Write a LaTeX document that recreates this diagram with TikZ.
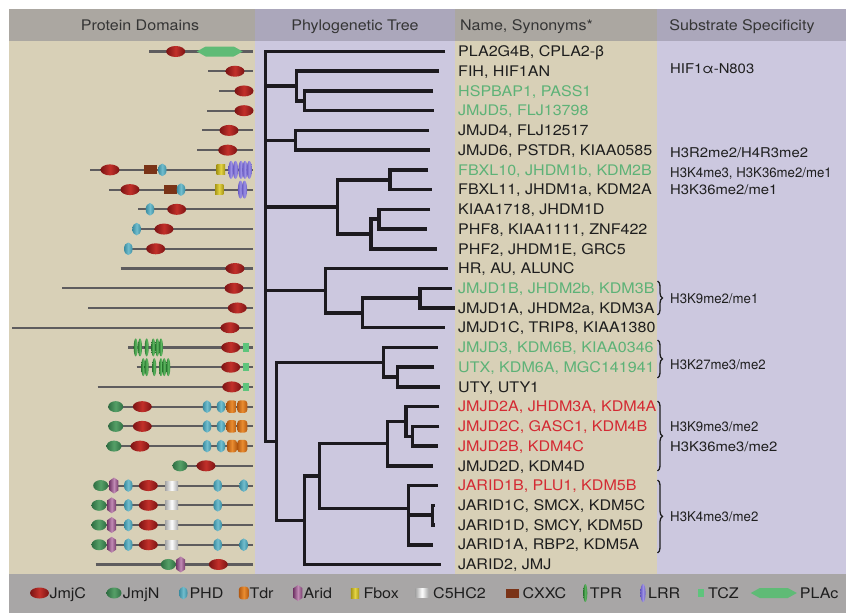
\documentclass[tikz,border=0pt]{standalone}
\usepackage{fontspec}
\setmainfont[FakeStretch=1.1]{TeX Gyre Heros}
\usepackage{tikz}
\usetikzlibrary{shapes.geometric,positioning,calc,decorations.pathreplacing}

\definecolor{HeadGrey}{HTML}{ABA7A1}
\definecolor{HeadLilac}{HTML}{ABA7BB}
\definecolor{Beige}{HTML}{D8D0B7}
\definecolor{Lilac}{HTML}{CCC8DF}
\definecolor{LegendGrey}{HTML}{A8A6A6}
\definecolor{NameGreen}{HTML}{5DB277}
\definecolor{NameRed}{HTML}{D42A33}
\definecolor{NameBlack}{HTML}{1E1E1E}
\definecolor{TreeInk}{HTML}{1C1A1F}
\definecolor{Backbone}{HTML}{5E5C5E}
\definecolor{JmjCLight}{HTML}{C3302A}
\definecolor{JmjCDark}{HTML}{7A1414}
\definecolor{JmjNLight}{HTML}{56A068}
\definecolor{JmjNDark}{HTML}{2F6E42}
\definecolor{PHDLight}{HTML}{72BDCD}
\definecolor{PHDDark}{HTML}{3A8CA1}
\definecolor{TdrLight}{HTML}{EA8D30}
\definecolor{TdrDark}{HTML}{B25810}
\definecolor{AridLight}{HTML}{C08AB4}
\definecolor{AridDark}{HTML}{7A3E6F}
\definecolor{FboxLight}{HTML}{E4D444}
\definecolor{FboxDark}{HTML}{A69616}
\definecolor{CXXCcol}{HTML}{7A3317}
\definecolor{TPRLight}{HTML}{5DB860}
\definecolor{TPRDark}{HTML}{2F7D35}
\definecolor{LRRLight}{HTML}{9C90E4}
\definecolor{LRRDark}{HTML}{6A5CC4}
\definecolor{TCZcol}{HTML}{5EC47C}
\definecolor{PLAccol}{HTML}{5FBB76}

% one protein: row, start of backbone, list of domain/x
\newcommand{\protein}[3]{%
  \pgfmathsetmacro{\py}{51.5+19.73*#1}
  \draw[backbone] (#2,\py) -- (253,\py);
  \foreach \dtype/\dx in {#3} {\pic at (\dx,\py) {\dtype};}
}
% tree helpers: parent, upper child, lower child
\newcommand{\clade}[3]{\draw[branch] (#2) -- (#2 -| #1) -- (#3 -| #1) -- (#3);}
\newcommand{\twig}[2]{\draw[branch] (#2) -- (#2 -| #1);}
\newcommand{\cond}[1]{\scalebox{0.89}[1]{#1}}

\begin{document}
\begin{tikzpicture}[
    x=1pt, y=-1pt,
    header/.style={font=\fontsize{14.6}{16}\selectfont, text=NameBlack!90, inner sep=0pt},
    gene/.style={font=\fontsize{14.6}{16}\selectfont, inner sep=0pt, anchor=base west},
    substrate/.style={font=\fontsize{13.5}{15}\selectfont, text=NameBlack, inner sep=0pt, anchor=base west},
    legtext/.style={font=\fontsize{14.6}{16}\selectfont, text=NameBlack, inner sep=0pt, anchor=base west},
    branch/.style={draw=TreeInk, line width=3.5pt},
    backbone/.style={draw=Backbone, line width=2.1pt},
    group/.style={draw=NameBlack, line width=1.3pt, decorate, decoration={brace, amplitude=5pt}},
    jmjc/.pic={\shade[left color=JmjCDark, right color=JmjCDark, middle color=JmjCLight] (0,0) ellipse [x radius=9.5pt, y radius=5.5pt];},
    jmjn/.pic={\shade[left color=JmjNDark, right color=JmjNDark, middle color=JmjNLight] (0,0) ellipse [x radius=7.5pt, y radius=5.5pt];},
    phd/.pic={\shade[left color=PHDDark, right color=PHDDark, middle color=PHDLight] (0,0) ellipse [x radius=4.3pt, y radius=6.3pt];},
    tdr/.pic={\shade[left color=TdrDark, right color=TdrDark, middle color=TdrLight, rounded corners=3pt] (-5,-6.3) rectangle (5,6.3);},
    arid/.pic={\shade[left color=AridDark, right color=AridDark, middle color=AridLight] (0,-8) -- (4.3,-5) -- (4.3,5) -- (0,8) -- (-4.3,5) -- (-4.3,-5) -- cycle;},
    fboxd/.pic={\shade[left color=FboxDark, right color=FboxDark, middle color=FboxLight] (-4.2,-5) rectangle (4.2,5);},
    chc/.pic={\shade[left color=gray!70, right color=gray!70, middle color=white] (-6.5,-4.5) rectangle (6.5,4.5);},
    cxxc/.pic={\fill[CXXCcol] (-6.5,-4.5) rectangle (6.5,4.5);},
    tpr/.pic={\shade[left color=TPRDark, right color=TPRDark, middle color=TPRLight] (0,0) ellipse [x radius=2pt, y radius=9pt];},
    lrr/.pic={\shade[left color=LRRDark, right color=LRRDark, middle color=LRRLight] (0,0) ellipse [x radius=2.6pt, y radius=9pt];},
    tcz/.pic={\fill[TCZcol] (-3,-4.2) rectangle (3,4.2);},
    plac/.pic={\fill[PLAccol] (-23,0) -- (-14,-5) -- (14,-5) -- (23,0) -- (14,5) -- (-14,5) -- cycle;}
]
    \useasboundingbox (0,0) rectangle (846,613);

    % column backgrounds
    \fill[HeadGrey] (9,9) rectangle (255,41);
    \fill[HeadLilac] (255,9) rectangle (455,41);
    \fill[HeadGrey] (455,9) rectangle (657,41);
    \fill[HeadLilac] (657,9) rectangle (846,41);
    \fill[Beige] (9,41) rectangle (255,574);
    \fill[Lilac] (255,41) rectangle (455,574);
    \fill[Beige] (455,41) rectangle (657,574);
    \fill[Lilac] (657,41) rectangle (846,574);
    \fill[LegendGrey] (9,574) rectangle (846,613);

    % headers
    \node[header, anchor=base] (hd-domains) at (140,30.2) {Protein Domains};
    \node[header, anchor=base] (hd-tree) at (355,30.2) {Phylogenetic Tree};
    \node[header, anchor=base west] (hd-names) at (460,30.2) {Name, Synonyms*};
    \node[header, anchor=base] (hd-substrate) at (742,30.2) {Substrate Specificity};

    % protein domains
    \protein{0}{149}{jmjc/175.7, plac/219.7}
    \protein{1}{208}{jmjc/235}
    \protein{2}{219}{jmjc/244}
    \protein{3}{207.3}{jmjc/244}
    \protein{4}{202.3}{jmjc/229}
    \protein{5}{197}{jmjc/227.7}
    \protein{6}{90}{jmjc/110, cxxc/150, phd/162.3, fboxd/220.8, lrr/231, lrr/235.5, lrr/241, lrr/245, lrr/249.3}
    \protein{7}{109.3}{jmjc/130, cxxc/170, phd/181, fboxd/219.2, lrr/240.5, lrr/244.5}
    \protein{8}{138.3}{phd/150, jmjc/176.7}
    \protein{9}{132.7}{phd/136.7, jmjc/164}
    \protein{10}{127}{phd/128.3, jmjc/155.7}
    \protein{11}{120.7}{jmjc/235}
    \protein{12}{62}{jmjc/234}
    \protein{13}{88.3}{jmjc/237.3}
    \protein{14}{12.3}{jmjc/230}
    \protein{15}{128.3}{tpr/135.7, tpr/140, tpr/146.7, tpr/153.3, tpr/157.3, tpr/161, jmjc/230.7, tcz/245.7}
    \protein{16}{136.7}{tpr/143.3, tpr/146.7, tpr/154.3, tpr/161, tpr/164.3, tpr/168.3, jmjc/230.7, tcz/245.7}
    \protein{17}{97.7}{jmjc/231.7, tcz/245.7}
    \protein{18}{108}{jmjn/115.7, jmjc/142.3, phd/207, phd/221, tdr/231.7, tdr/242.3}
    \protein{19}{108}{jmjn/115.7, jmjc/142.3, phd/207, phd/221, tdr/231.7, tdr/242.3}
    \protein{20}{106}{jmjn/114, jmjc/140, phd/207, phd/221, tdr/232, tdr/242.3}
    \protein{21}{178}{jmjn/180, jmjc/206}
    \protein{22}{97}{jmjn/100.7, arid/114, phd/128.3, jmjc/148.3, chc/171.7, phd/217.7, phd/243.7}
    \protein{23}{95}{jmjn/99, arid/111.7, phd/128.3, jmjc/148.3, chc/171.7, phd/217.7}
    \protein{24}{95}{jmjn/99, arid/111.7, phd/128.3, jmjc/148.3, chc/171.7, phd/217.7}
    \protein{25}{95}{jmjn/99, arid/111.7, phd/128.3, jmjc/148.3, chc/171.7, phd/217.7, phd/243.7}
    \protein{26}{95.7}{jmjn/168.3, arid/180.7, jmjc/218.3}

    % tree leaves and inner nodes
    \foreach \tx [count=\i from 0] in {445,439,433,434,429,430,428,432,430,427,436.7,447.7,452,455,445,437.7,434.3,440,439.3,439.3,437.7,433.3,437.7,435,435,433.3,441}
        \coordinate (leaf\i) at (\tx,{51.5+19.73*\i});
    \coordinate (root) at (265.5,0);
    \coordinate (cFIH) at (296.7,86.0);
    \coordinate (cHSP) at (304.3,100.85);
    \coordinate (cJMJD6) at (295.7,140.3);
    \coordinate (cKDM2) at (337.7,206.9);
    \coordinate (cFBXL) at (390,179.75);
    \coordinate (cPHF) at (371,234);
    \coordinate (cKIAA) at (379,219.2);
    \coordinate (cHR) at (325.7,290.7);
    \coordinate (cJMJD1) at (362.3,312.9);
    \coordinate (cJMJD1AB) at (420,298.15);
    \coordinate (cLower) at (276.7,441.3);
    \coordinate (cKDM6) at (383.3,362.3);
    \coordinate (cUTX) at (397.7,377.05);
    \coordinate (cJARID) at (304.3,520.25);
    \coordinate (cKDM45) at (319.3,476);
    \coordinate (cKDM4) at (387.7,443.6);
    \coordinate (cKDM4AC) at (406,421.4);
    \coordinate (cKDM4CB) at (412.3,436.25);
    \coordinate (cKDM5) at (408.3,508.3);
    \coordinate (cKDM5CD) at (432.3,515.15);

    % branches
    \clade{root}{leaf0}{cLower}
    \twig{root}{cFIH}
    \twig{root}{cJMJD6}
    \twig{root}{cKDM2}
    \twig{root}{cHR}
    \clade{cFIH}{leaf1}{cHSP}
    \clade{cHSP}{leaf2}{leaf3}
    \clade{cJMJD6}{leaf4}{leaf5}
    \clade{cKDM2}{cFBXL}{cPHF}
    \clade{cFBXL}{leaf6}{leaf7}
    \clade{cPHF}{cKIAA}{leaf10}
    \clade{cKIAA}{leaf8}{leaf9}
    \clade{cHR}{leaf11}{cJMJD1}
    \clade{cJMJD1}{cJMJD1AB}{leaf14}
    \clade{cJMJD1AB}{leaf12}{leaf13}
    \clade{cLower}{cKDM6}{cJARID}
    \clade{cKDM6}{leaf15}{cUTX}
    \clade{cUTX}{leaf16}{leaf17}
    \clade{cJARID}{cKDM45}{leaf26}
    \clade{cKDM45}{cKDM4}{cKDM5}
    \clade{cKDM4}{cKDM4AC}{leaf21}
    \clade{cKDM4AC}{leaf18}{cKDM4CB}
    \clade{cKDM4CB}{leaf19}{leaf20}
    \clade{cKDM5}{leaf22}{leaf25}
    \twig{cKDM5}{cKDM5CD}
    \clade{cKDM5CD}{leaf23}{leaf24}

    % names
    \foreach \lab/\col [count=\i from 0] in {
        {PLA2G4B, CPLA2-β}/NameBlack,
        {FIH, HIF1AN}/NameBlack,
        {HSPBAP1, PASS1}/NameGreen,
        {JMJD5, FLJ13798}/NameGreen,
        {JMJD4, FLJ12517}/NameBlack,
        {JMJD6, PSTDR, KIAA0585}/NameBlack,
        {FBXL10, JHDM1b, KDM2B}/NameGreen,
        {FBXL11, JHDM1a, KDM2A}/NameBlack,
        {KIAA1718, JHDM1D}/NameBlack,
        {PHF8, KIAA1111, ZNF422}/NameBlack,
        {PHF2, JHDM1E, GRC5}/NameBlack,
        {HR, AU, ALUNC}/NameBlack,
        {JMJD1B, JHDM2b, KDM3B}/NameGreen,
        {JMJD1A, JHDM2a, KDM3A}/NameBlack,
        {JMJD1C, TRIP8, KIAA1380}/NameBlack,
        {JMJD3, KDM6B, KIAA0346}/NameGreen,
        {UTX, KDM6A, MGC141941}/NameGreen,
        {UTY, UTY1}/NameBlack,
        {JMJD2A, JHDM3A, KDM4A}/NameRed,
        {JMJD2C, GASC1, KDM4B}/NameRed,
        {JMJD2B, KDM4C}/NameRed,
        {JMJD2D, KDM4D}/NameBlack,
        {JARID1B, PLU1, KDM5B}/NameRed,
        {JARID1C, SMCX, KDM5C}/NameBlack,
        {JARID1D, SMCY, KDM5D}/NameBlack,
        {JARID1A, RBP2, KDM5A}/NameBlack,
        {JARID2, JMJ}/NameBlack}
        \node[gene, text=\col] (gene\i) at (458,{56.7+19.73*\i}) {\lab};

    % substrate specificity
    \node[substrate] (sub-fih) at (670,73.3) {HIF1α-N803};
    \node[substrate] (sub-jmjd6) at (670,157.3) {H3R2me2/H4R3me2};
    \node[substrate] (sub-fbxl10) at (670,177) {\cond{H3K4me3, H3K36me2/me1}};
    \node[substrate] (sub-fbxl11) at (670,194) {H3K36me2/me1};
    \node[substrate] (sub-kdm3) at (670,303) {\cond{H3K9me2/me1}};
    \node[substrate] (sub-kdm6) at (670,369) {\cond{H3K27me3/me2}};
    \node[substrate] (sub-kdm4a) at (670,431.5) {\cond{H3K9me3/me2}};
    \node[substrate] (sub-kdm4b) at (670,451.5) {H3K36me3/me2};
    \node[substrate] (sub-kdm5) at (670,521.5) {\cond{H3K4me3/me2}};

    % braces
    \draw[group] (657.5,281) -- (657.5,315);
    \draw[group] (657.5,340) -- (657.5,378);
    \draw[group] (657.5,401) -- (657.5,471);
    \draw[group] (657.5,480) -- (657.5,553);

    % legend
    \foreach \dtype/\ix/\tx/\lab in {jmjc/39.5/49.3/JmjC, jmjn/114/122.7/JmjN, phd/183.3/189.3/PHD, tdr/243.8/249.3/Tdr, arid/298/303.3/Arid, fboxd/355/363.3/Fbox, chc/422/433/C5HC2, cxxc/512.7/522.3/CXXC, tpr/585.3/589.7/TPR, lrr/643/648/LRR, tcz/700.5/708/TCZ, plac/773.8/799.7/PLAc}
    {
        \pic at (\ix,593) {\dtype};
        \node[legtext] (key-\dtype) at (\tx,598.3) {\lab};
    }

\end{tikzpicture}
\end{document}
